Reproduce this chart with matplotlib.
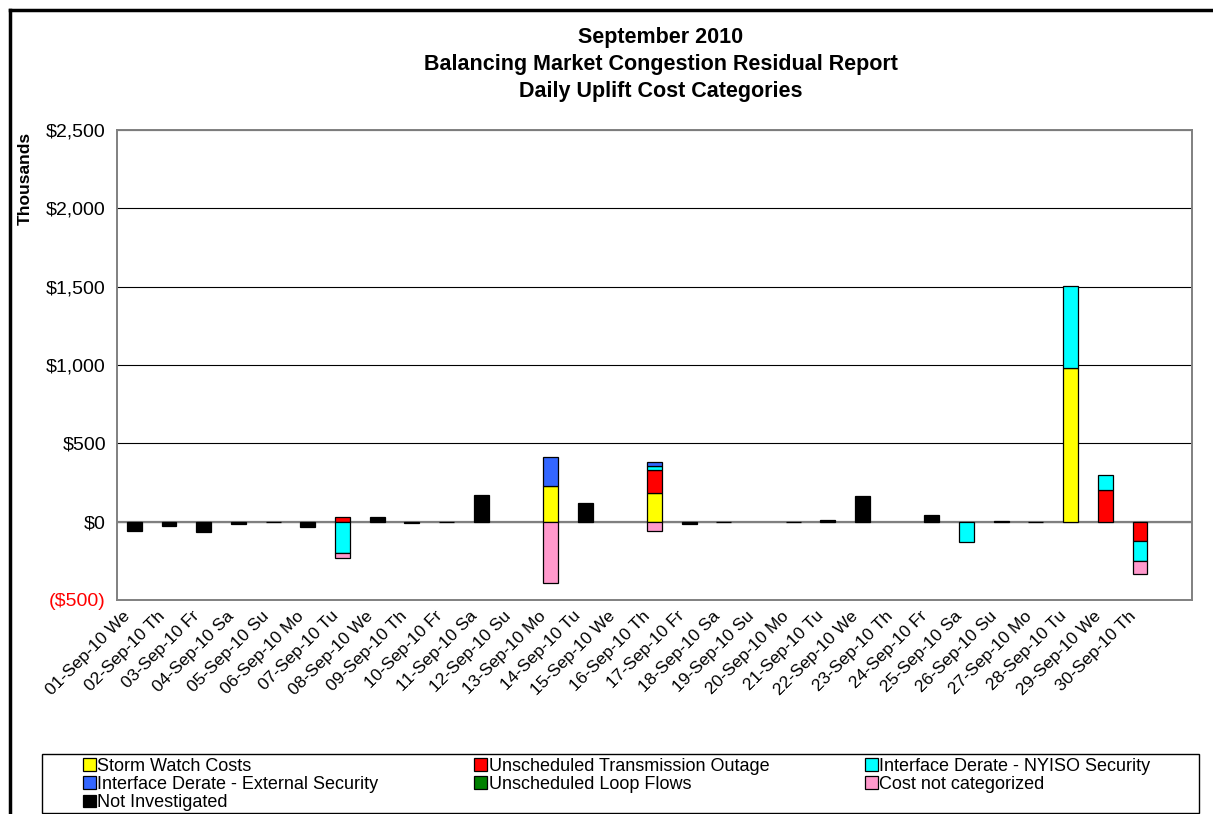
import numpy as np
import matplotlib
matplotlib.use("Agg")
import matplotlib.pyplot as plt
import matplotlib.transforms as mtransforms
from matplotlib.lines import Line2D
from matplotlib.patches import Patch, Rectangle

plt.rcParams['font.family'] = ['Liberation Sans', 'DejaVu Sans']

days = ["01-Sep-10 We", "02-Sep-10 Th", "03-Sep-10 Fr", "04-Sep-10 Sa", "05-Sep-10 Su",
        "06-Sep-10 Mo", "07-Sep-10 Tu", "08-Sep-10 We", "09-Sep-10 Th", "10-Sep-10 Fr",
        "11-Sep-10 Sa", "12-Sep-10 Su", "13-Sep-10 Mo", "14-Sep-10 Tu", "15-Sep-10 We",
        "16-Sep-10 Th", "17-Sep-10 Fr", "18-Sep-10 Sa", "19-Sep-10 Su", "20-Sep-10 Mo",
        "21-Sep-10 Tu", "22-Sep-10 We", "23-Sep-10 Th", "24-Sep-10 Fr", "25-Sep-10 Sa",
        "26-Sep-10 Su", "27-Sep-10 Mo", "28-Sep-10 Tu", "29-Sep-10 We", "30-Sep-10 Th"]

# daily uplift by category, $ thousands
storm_watch = [0, 0, 0, 0, 0, 0, 0, 0, 0, 0, 0, 0, 225, 0, 0,
               183, 0, 0, 0, 0, 0, 0, 0, 0, 0, 0, 0, 980, 0, 0]
trans_outage = [0, 0, 0, 0, 0, 0, 28, 0, 0, 0, 0, 0, 0, 0, 0,
                147, 0, 0, 0, 0, 0, 0, 0, 0, 0, 0, 0, 0, 200, -125]
nyiso_security = [0, 0, 0, 0, 0, 0, -200, 0, 0, 0, 0, 0, 0, 0, 0,
                  27, 0, 0, 0, 0, 0, 0, 0, 0, -130, 0, 0, 525, 95, -128]
external_security = [0, 0, 0, 0, 0, 0, 0, 0, 0, 0, 0, 0, 190, 0, 0,
                     22, 0, 0, 0, 0, 0, 0, 0, 0, 0, 0, 0, 0, 0, 0]
loop_flows = [0] * 30
not_categorized = [0, 0, 0, 0, 0, 0, -35, 0, 0, 0, 0, 0, -393, 0, 0,
                   -61, 0, 0, 0, 0, 0, 0, 0, 0, 0, 0, 0, 0, 0, -78]
not_investigated = [-57, -28, -64, -12, -4, -33, 0, 30, -10, -3, 170, 0, 0, 119, 0,
                    0, -13, -5, 0, -3, 8, 162, 0, 42, 0, 5, -3, 0, 0, 0]

series = [
    ("Storm Watch Costs", storm_watch, "#FFFF00"),
    ("Unscheduled Transmission Outage", trans_outage, "#FF0000"),
    ("Interface Derate - NYISO Security", nyiso_security, "#00FFFF"),
    ("Interface Derate - External Security", external_security, "#3366FF"),
    ("Unscheduled Loop Flows", loop_flows, "#008000"),
    ("Cost not categorized", not_categorized, "#FF99CC"),
    ("Not Investigated", not_investigated, "#000000"),
]

W, H = 1213, 814
fig = plt.figure(figsize=(W / 100, H / 100), dpi=100)
ax = fig.add_axes([117 / W, 1 - 600 / H, (1192 - 117) / W, (600 - 130) / H])

x = np.arange(len(days))
pos_base = np.zeros(len(days))
neg_base = np.zeros(len(days))
handles = {}
for name, vals, color in series:
    v = np.array(vals, dtype=float)
    base = np.where(v >= 0, pos_base, neg_base)
    mask = v != 0
    ax.bar(x[mask], v[mask], bottom=base[mask], width=0.43, color=color,
           edgecolor="black", linewidth=0.9, zorder=3)
    pos_base += np.where(v > 0, v, 0)
    neg_base += np.where(v < 0, v, 0)
    handles[name] = Patch(facecolor=color, edgecolor="black", linewidth=0.9)

ax.set_xlim(-0.5, 30.5)
ax.set_ylim(-500, 2500)
ax.set_yticks(np.arange(-500, 2501, 500))
ylabels = ["($500)", "$0", "$500", "$1,000", "$1,500", "$2,000", "$2,500"]
ax.set_yticklabels(ylabels, fontsize=14)
ax.get_yticklabels()[0].set_color("red")
ax.grid(axis="y", color="black", linewidth=0.8, zorder=1)
ax.axhline(0, color="#808080", linewidth=1.6, zorder=2)
ax.tick_params(axis="both", length=0)
ax.tick_params(axis="y", pad=8)
ax.set_xticks(x)
ax.set_xticklabels(days, rotation=45, ha="right", rotation_mode="anchor", fontsize=12.5)
ax.tick_params(axis="x", pad=6)
shift = mtransforms.ScaledTranslation(-12 / 100, 0, fig.dpi_scale_trans)
for lab in ax.get_xticklabels():
    lab.set_transform(lab.get_transform() + shift)
for s in ax.spines.values():
    s.set_color("#808080")
    s.set_linewidth(1.4)

fig.text(25 / W, 1 - 178 / H, "Thousands", rotation=90, ha="center", va="center",
         fontsize=12.5, fontweight="bold")

titles = ["September 2010", "Balancing Market Congestion Residual Report",
          "Daily Uplift Cost Categories"]
for i, t in enumerate(titles):
    fig.text(661 / W, 1 - (38 + 26.5 * i) / H, t, ha="center", va="center",
             fontsize=15.5, fontweight="bold")

# legend laid out column by column so rows read left to right
order = ["Storm Watch Costs", "Interface Derate - External Security", "Not Investigated",
         "Unscheduled Transmission Outage", "Unscheduled Loop Flows",
         "Interface Derate - NYISO Security", "Cost not categorized"]
fig.add_artist(Rectangle((42 / W, 1 / H), (1199 - 42) / W, 59 / H,
                         transform=fig.transFigure, facecolor="white",
                         edgecolor="black", linewidth=1.0))
leg = fig.legend([handles[n] for n in order], order, ncol=3,
                 loc="upper left", bbox_to_anchor=(83 / W, 1 - 758 / H),
                 fontsize=13, frameon=False,
                 handlelength=0.7, handleheight=0.7, handletextpad=0.1,
                 labelspacing=0.06, borderpad=0, borderaxespad=0, columnspacing=5.3)

# outer frame along left and top edges
fig.add_artist(Line2D([9.5 / W, 9.5 / W], [0, 1 - 9.5 / H], color="black",
                      linewidth=2.5, transform=fig.transFigure))
fig.add_artist(Line2D([9.5 / W, 1], [1 - 9.5 / H, 1 - 9.5 / H], color="black",
                      linewidth=2.5, transform=fig.transFigure))

fig.savefig("out.png", dpi=100)
